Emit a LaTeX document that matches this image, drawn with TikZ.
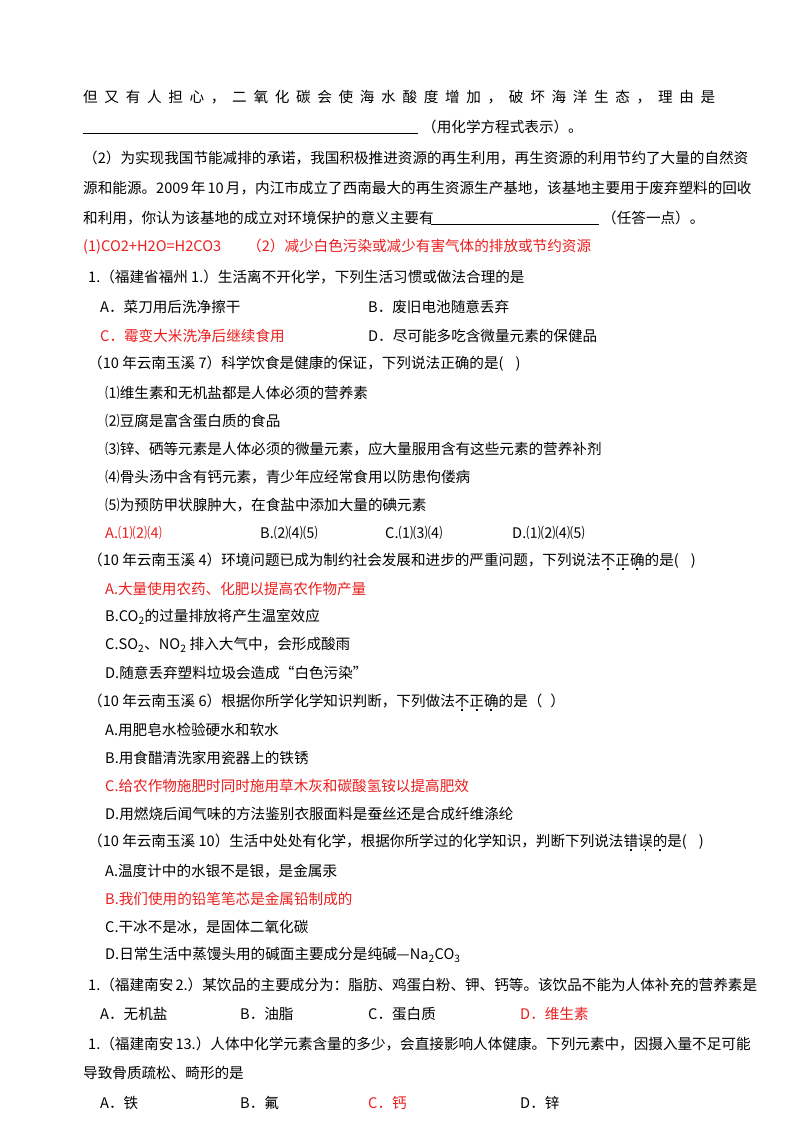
\documentclass[tikz,border=0pt]{standalone}
\usepackage{fontspec}
\setmainfont{Noto Sans CJK SC}
\newsavebox\dotbox
\newcommand\dotc[1]{\sbox\dotbox{#1}\rlap{\raisebox{-4.5pt}{\makebox[\wd\dotbox]{\rule{1.8pt}{1.8pt}}}}\usebox\dotbox}
\definecolor{ansred}{RGB}{235,30,30}
\begin{document}
\begin{tikzpicture}[x=1pt,y=-1pt,
  t/.style={anchor=west,inner sep=0pt,font=\fontsize{14.6}{17}\selectfont},
  r/.style={t,text=ansred}]
\useasboundingbox (0,0) rectangle (800,1132);
\node[t] (l1) at (83,97) {\makebox[632pt][s]{但\hfill 又\hfill 有\hfill 人\hfill 担\hfill 心\hfill ，\hfill 二\hfill 氧\hfill 化\hfill 碳\hfill 会\hfill 使\hfill 海\hfill 水\hfill 酸\hfill 度\hfill 增\hfill 加\hfill ，\hfill 破\hfill 坏\hfill 海\hfill 洋\hfill 生\hfill 态\hfill ，\hfill 理\hfill 由\hfill 是}};
\coordinate (u1a) at (83,133); \coordinate (u1b) at (418,133);
\draw[line width=0.6pt] (u1a) -- (u1b);
\node[t] (l2) at (422,127) {（用化学方程式表示）。};
\node[t] (l3) at (83,158) {\makebox[632pt][s]{（2）为实现我国节能减排的承诺，我国积极推进资源的再生利用，再生资源的利用节约了大量的自然资}};
\node[t] (l4) at (83,188) {\makebox[632pt][s]{源和能源。2009 年 10 月，内江市成立了西南最大的再生资源生产基地，该基地主要用于废弃塑料的回收}};
\node[t] (l5) at (83,218) {和利用，你认为该基地的成立对环境保护的意义主要有};
\coordinate (u2a) at (431,224); \coordinate (u2b) at (599,224);
\draw[line width=0.6pt] (u2a) -- (u2b);
\node[t] (l5b) at (602,218) {（任答一点）。};
\node[r] (l6) at (83,247) {(1)CO2+H2O=H2CO3\hspace{26pt}（2）减少白色污染或减少有害气体的排放或节约资源};
\node[t] (l7) at (88,277) {1.（福建省福州 1.）生活离不开化学，下列生活习惯或做法合理的是};
\node[t] (l8a) at (100,307) {A．菜刀用后洗净擦干};
\node[t] (l8b) at (368,307) {B．废旧电池随意丢弃};
\node[r] (l9a) at (100,336) {C．霉变大米洗净后继续食用};
\node[t] (l9b) at (368,336) {D．尽可能多吃含微量元素的保健品};
\node[t] (l10) at (88,364) {（10 年云南玉溪 7）科学饮食是健康的保证，下列说法正确的是(\hspace{12pt})};
\node[t] (l11) at (105,393) {⑴维生素和无机盐都是人体必须的营养素};
\node[t] (l12) at (105,421) {⑵豆腐是富含蛋白质的食品};
\node[t] (l13) at (105,449) {⑶锌、硒等元素是人体必须的微量元素，应大量服用含有这些元素的营养补剂};
\node[t] (l14) at (105,477) {⑷骨头汤中含有钙元素，青少年应经常食用以防患佝偻病};
\node[t] (l15) at (105,505) {⑸为预防甲状腺肿大，在食盐中添加大量的碘元素};
\node[r] (l16a) at (105,533) {A.⑴⑵⑷};
\node[t] (l16b) at (260,533) {B.⑵⑷⑸};
\node[t] (l16c) at (385,533) {C.⑴⑶⑷};
\node[t] (l16d) at (512,533) {D.⑴⑵⑷⑸};
\node[t] (l17) at (88,561) {（10 年云南玉溪 4）环境问题已成为制约社会发展和进步的严重问题，下列说法\dotc{不}\dotc{正}\dotc{确}的是(\hspace{12pt})};
\node[r] (l18) at (105,589) {A.大量使用农药、化肥以提高农作物产量};
\node[t] (l19) at (105,617) {B.CO\textsubscript{2}的过量排放将产生温室效应};
\node[t] (l20) at (105,645) {C.SO\textsubscript{2}、NO\textsubscript{2} 排入大气中，会形成酸雨};
\node[t] (l21) at (105,673) {D.随意丢弃塑料垃圾会造成“白色污染”};
\node[t] (l22) at (88,702) {（10 年云南玉溪 6）根据你所学化学知识判断，下列做法\dotc{不}\dotc{正}\dotc{确}的是（\hspace{8pt}）};
\node[t] (l23) at (105,730) {A.用肥皂水检验硬水和软水};
\node[t] (l24) at (105,758) {B.用食醋清洗家用瓷器上的铁锈};
\node[r] (l25) at (105,786) {C.给农作物施肥时同时施用草木灰和碳酸氢铵以提高肥效};
\node[t] (l26) at (105,814) {D.用燃烧后闻气味的方法鉴别衣服面料是蚕丝还是合成纤维涤纶};
\node[t] (l27) at (88,842) {（10 年云南玉溪 10）生活中处处有化学，根据你所学过的化学知识，判断下列说法\dotc{错}\dotc{误}\dotc{的}是(\hspace{12pt})};
\node[t] (l28) at (105,871) {A.温度计中的水银不是银，是金属汞};
\node[r] (l29) at (105,899) {B.我们使用的铅笔笔芯是金属铅制成的};
\node[t] (l30) at (105,927) {C.干冰不是冰，是固体二氧化碳};
\node[t] (l31) at (105,955) {D.日常生活中蒸馒头用的碱面主要成分是纯碱—Na\textsubscript{2}CO\textsubscript{3}};
\node[t] (l32) at (88,985) {\makebox[627pt][s]{1.（福建南安 2.）某饮品的主要成分为：脂肪、鸡蛋白粉、钾、钙等。该饮品不能为人体补充的营养素是}};
\node[t] (l33a) at (100,1014) {A．无机盐};
\node[t] (l33b) at (240,1014) {B．油脂};
\node[t] (l33c) at (368,1014) {C．蛋白质};
\node[r] (l33d) at (520,1014) {D．维生素};
\node[t] (l34) at (88,1044) {\makebox[627pt][s]{1.（福建南安 13.）人体中化学元素含量的多少，会直接影响人体健康。下列元素中，因摄入量不足可能}};
\node[t] (l35) at (83,1073) {导致骨质疏松、畸形的是};
\node[t] (l36a) at (100,1103) {A．铁};
\node[t] (l36b) at (240,1103) {B．氟};
\node[r] (l36c) at (368,1103) {C．钙};
\node[t] (l36d) at (520,1103) {D．锌};
\end{tikzpicture}
\end{document}
